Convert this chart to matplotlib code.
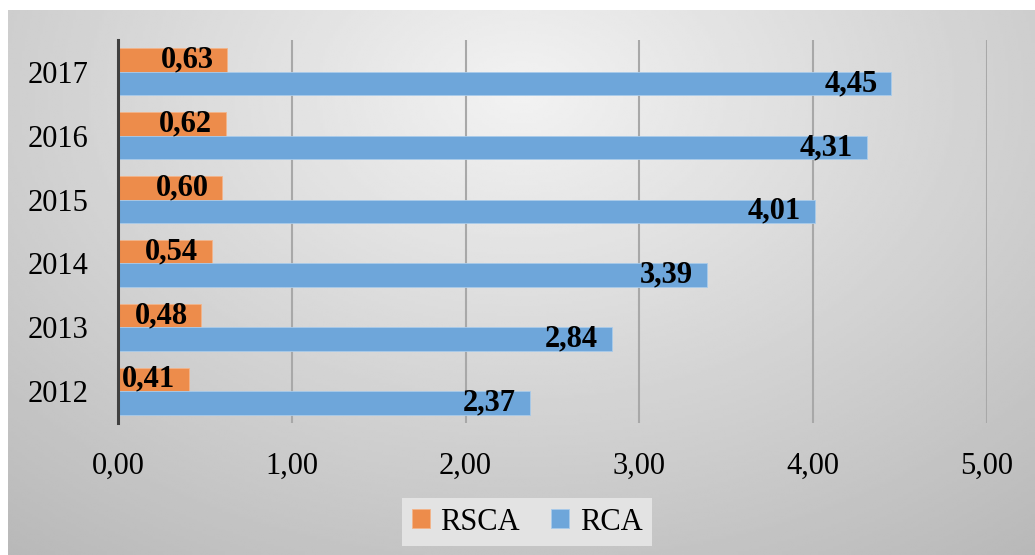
import numpy as np
import matplotlib
matplotlib.use("Agg")
import matplotlib.pyplot as plt

years = ["2012", "2013", "2014", "2015", "2016", "2017"]
rsca = [0.41, 0.48, 0.54, 0.60, 0.62, 0.63]
rca = [2.37, 2.84, 3.39, 4.01, 4.31, 4.45]
xticks = [0, 1, 2, 3, 4, 5]

plt.rcParams['font.family'] = ['Liberation Serif', 'DejaVu Serif']

fig = plt.figure(figsize=(10.35, 5.55), dpi=100)

# radial grey background of the chart area
bg = fig.add_axes([8 / 1035, 0, 1 - 8 / 1035, 1 - 10 / 555], zorder=-10)
gx, gy = np.meshgrid(np.linspace(0, 1, 400), np.linspace(0, 1, 220))
r = np.sqrt(((gx - 0.5) / 0.75) ** 2 + ((gy - 0.15) / 1.0) ** 2)
shade = np.clip(0.95 - 0.21 * r, 0, 1)
bg.imshow(shade, cmap="gray", vmin=0, vmax=1, aspect="auto",
          extent=[0, 1, 1, 0], interpolation="bilinear")
bg.set_axis_off()

ax = fig.add_axes([118 / 1035, 1 - 423 / 555, 869 / 1035, 383 / 555])
ax.set_facecolor("none")

y = np.arange(len(years))
h = 0.367
b1 = ax.barh(y + h / 2, rsca, height=h, color="#ED8C4B", edgecolor="#F3B48A",
             linewidth=0.6, label="RSCA", zorder=3)
b2 = ax.barh(y - h / 2, rca, height=h, color="#6EA6DA", edgecolor="#A9CBEA",
             linewidth=0.6, label="RCA", zorder=3)

for bars, vals in ((b1, rsca), (b2, rca)):
    for rect, v in zip(bars, vals):
        ax.text(v - 0.08, rect.get_y() + rect.get_height() / 2,
                f"{v:.2f}".replace(".", ","), ha="right", va="center",
                fontsize=22, fontweight="bold", color="black", zorder=4)

ax.set_xlim(0, 5)
ax.set_ylim(-0.5, len(years) - 0.5)
ax.set_xticks(xticks)
ax.set_xticklabels([f"{v:.2f}".replace(".", ",") for v in xticks], fontsize=22)
ax.set_yticks(y)
ax.set_yticklabels(years, fontsize=22)
ax.tick_params(axis="x", length=0, pad=21)
ax.tick_params(axis="y", length=0, pad=21)
ax.grid(axis="x", color="#a8a8a8", linewidth=1.5, zorder=1)
for s in ("top", "right", "bottom"):
    ax.spines[s].set_visible(False)
ax.spines["left"].set_color("#404040")
ax.spines["left"].set_linewidth(2.2)
ax.spines["left"].set_zorder(5)

leg = fig.legend(handles=[b1, b2], labels=["RSCA", "RCA"], loc="center",
                 bbox_to_anchor=(527 / 1035, 1 - 522 / 555), ncol=2,
                 fontsize=22, frameon=True, fancybox=False,
                 handlelength=0.6, handleheight=0.6, handletextpad=0.35,
                 columnspacing=1.0, borderpad=0.3)
leg.get_frame().set_facecolor("#e3e3e3")
leg.get_frame().set_edgecolor("none")
leg.get_frame().set_alpha(1)

fig.savefig("out.png", dpi=100)
